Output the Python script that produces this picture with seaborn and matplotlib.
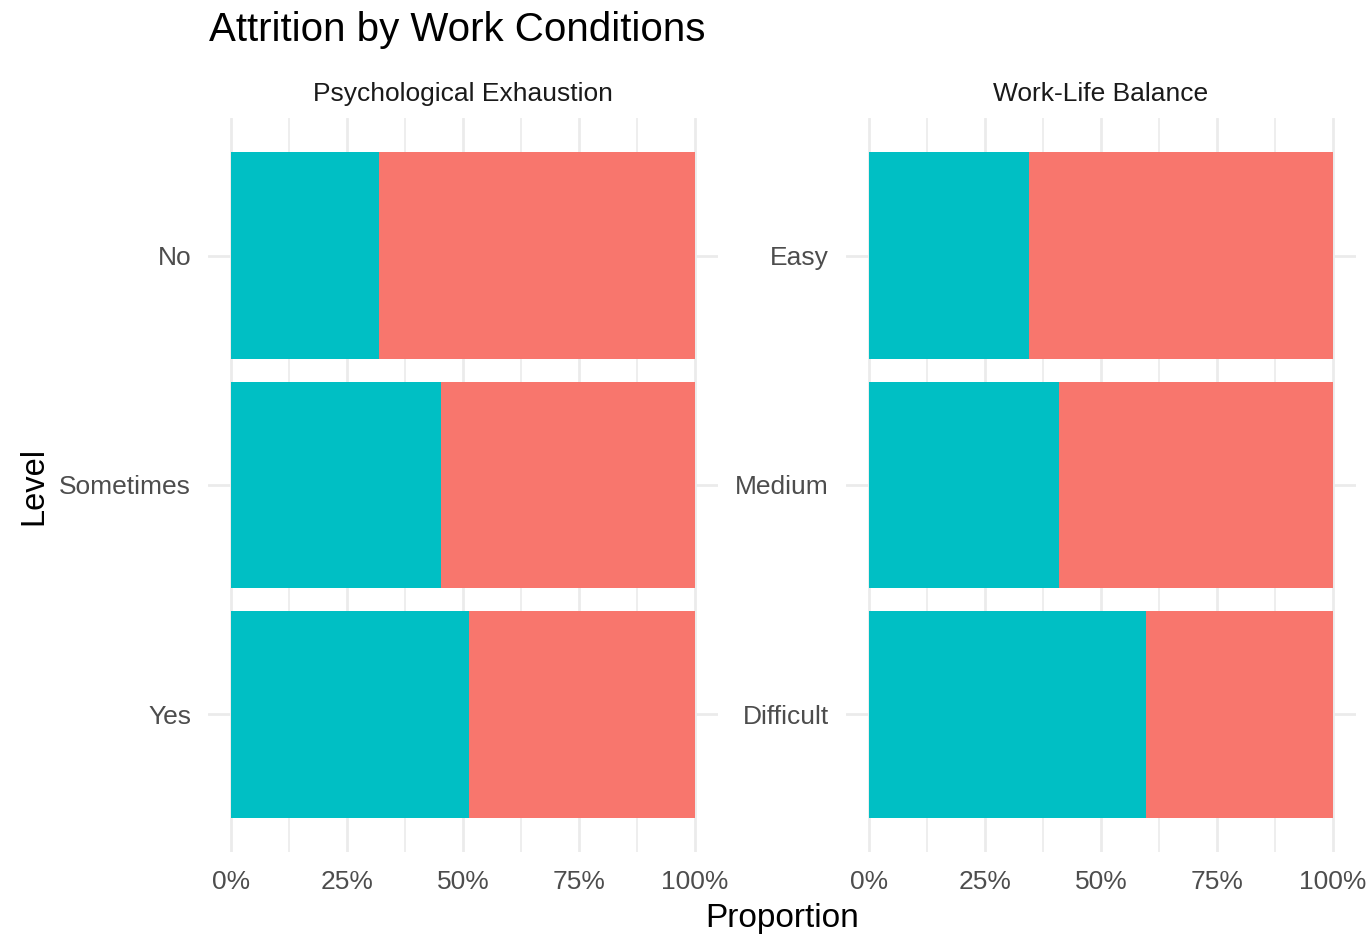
import numpy as np
import pandas as pd
import matplotlib
matplotlib.use('Agg')
import matplotlib.pyplot as plt
import seaborn as sns
from matplotlib.ticker import FixedLocator, PercentFormatter

# Data
psych_levels = ['No', 'Sometimes', 'Yes']
psych_teal = [0.320, 0.453, 0.514]
psych_red = [0.680, 0.547, 0.486]

wlb_levels = ['Easy', 'Medium', 'Difficult']
wlb_teal = [0.345, 0.410, 0.598]
wlb_red = [0.655, 0.590, 0.402]

panel_titles = ['Psychological Exhaustion', 'Work-Life Balance']

teal = '#00BFC4'
red = '#F8766D'

sns.set_style('white')
plt.rcParams['font.family'] = ['Liberation Sans', 'DejaVu Sans']

fig = plt.figure(figsize=(13.69, 9.34), dpi=100)
ax1 = fig.add_axes([0.1518, 0.0878, 0.3728, 0.7859])
ax2 = fig.add_axes([0.6178, 0.0878, 0.3728, 0.7859])

panels = [
    (ax1, psych_levels, psych_teal, psych_red, panel_titles[0]),
    (ax2, wlb_levels, wlb_teal, wlb_red, panel_titles[1]),
]

for ax, levels, t_vals, r_vals, title in panels:
    df = pd.DataFrame({'Level': levels, 'teal': t_vals, 'red': r_vals})
    df['total'] = df['teal'] + df['red']
    # grid first so bars sit on top
    ax.set_axisbelow(True)
    sns.barplot(data=df, y='Level', x='total', color=red, width=0.9,
                saturation=1, ax=ax, orient='h', edgecolor='none')
    sns.barplot(data=df, y='Level', x='teal', color=teal, width=0.9,
                saturation=1, ax=ax, orient='h', edgecolor='none')
    ax.set_xlim(-0.05, 1.05)
    ax.set_ylim(2.6, -0.6)
    ax.xaxis.set_major_locator(FixedLocator([0, 0.25, 0.5, 0.75, 1.0]))
    ax.xaxis.set_minor_locator(FixedLocator([0.125, 0.375, 0.625, 0.875]))
    ax.xaxis.set_major_formatter(PercentFormatter(1.0, decimals=0))
    ax.grid(True, which='major', axis='both', color='#EBEBEB', linewidth=2.0)
    ax.grid(True, which='minor', axis='x', color='#EBEBEB', linewidth=1.2)
    for s in ax.spines.values():
        s.set_visible(False)
    ax.tick_params(axis='both', which='both', length=0, labelsize=19,
                   labelcolor='#4D4D4D')
    ax.tick_params(axis='y', pad=12)
    ax.tick_params(axis='x', pad=13)
    ax.set_xlabel('')
    ax.set_ylabel('')
    ax.set_title(title, fontsize=19, color='#1A1A1A', pad=12)

fig.text(0.0245, 0.48, 'Level', rotation=90, fontsize=23.5, va='center',
         ha='center', color='black')
fig.text(0.5715, 0.0, 'Proportion', fontsize=24, ha='center', va='bottom',
         color='black')
fig.text(0.1527, 0.988, 'Attrition by Work Conditions', fontsize=29,
         ha='left', va='top', color='black')

fig.savefig('out.png', dpi=100)
